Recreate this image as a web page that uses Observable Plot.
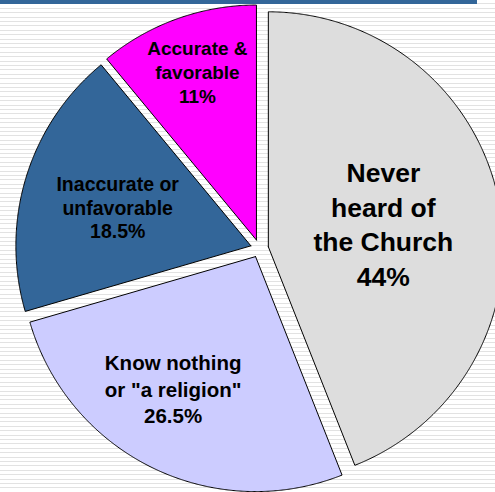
<!DOCTYPE html>
<html>
<head>
<meta charset="utf-8">
<script src="https://cdn.jsdelivr.net/npm/d3@7"></script>
<script src="https://cdn.jsdelivr.net/npm/@observablehq/plot@0.6"></script>
<style>
  html, body { margin: 0; padding: 0; }
  body {
    width: 495px; height: 492px; overflow: hidden; position: relative;
    background: repeating-linear-gradient(to bottom, #ffffff 0px, #ffffff 3.4px, #e2e2e2 3.4px, #e2e2e2 4.4px);
  }
  #bar { position: absolute; left: 0; top: 0; width: 477px; height: 4px; background: #336699; z-index: 2; }
  #chart { position: absolute; left: 0; top: 0; }
</style>
</head>
<body>
<div id="bar"></div>
<div id="chart"></div>
<script>
// ---- data ----
const categories = ["Never heard of the Church", "Know nothing or \"a religion\"", "Inaccurate or unfavorable", "Accurate & favorable"];
const labelLines = [
  ["Never", "heard of", "the Church"],
  ["Know nothing", "or \"a religion\""],
  ["Inaccurate or", "unfavorable"],
  ["Accurate &", "favorable"]
];
const values = [44, 26.5, 18.5, 11];
const valueLabels = ["44%", "26.5%", "18.5%", "11%"];
const colors = ["#dddddd", "#ccccff", "#336699", "#ff00ff"];

// ---- layout (styles, not data) ----
const explode = 9 / 235;              // in radius units
const labelRadius = [0.5, 0.66, 0.59, 0.76];
const labelNudge = [-1, 6, -1, 0.5];  // degrees
const fontSizes = [26.5, 20.5, 19.5, 19];
const lineHeights = [1.31, 1.3, 1.2, 1.26];

const arcs = d3.pie().sort(null).value(d => d)(values);

const pts = [];
const labelData = [];
arcs.forEach((a, i) => {
  const mid = (a.startAngle + a.endAngle) / 2;
  const ox = explode * Math.sin(mid), oy = explode * Math.cos(mid);
  pts.push({key: i, color: colors[i], x: ox, y: oy});
  const n = Math.max(2, Math.ceil((a.endAngle - a.startAngle) / 0.005));
  for (let k = 0; k <= n; k++) {
    const t = a.startAngle + (a.endAngle - a.startAngle) * k / n;
    pts.push({key: i, color: colors[i], x: ox + Math.sin(t), y: oy + Math.cos(t)});
  }
  pts.push({key: i, color: colors[i], x: ox, y: oy});
  const la = mid + labelNudge[i] * Math.PI / 180;
  labelData.push({
    i,
    text: [...labelLines[i], valueLabels[i]].join("\n"),
    x: ox + labelRadius[i] * Math.sin(la),
    y: oy + labelRadius[i] * Math.cos(la)
  });
});

// pixel frame: center at (259,248), radius 235
const R = 235, cx = 259, cy = 248, W = 495, H = 492;
const xDomain = [(0 - cx) / R, (W - cx) / R];
const yDomain = [(cy - H) / R, (cy - 0) / R];

const chart = Plot.plot({
  width: W,
  height: H,
  margin: 0,
  x: {domain: xDomain, axis: null},
  y: {domain: yDomain, axis: null},
  color: {type: "identity"},
  style: {background: "transparent"},
  marks: [
    Plot.line(pts, {x: "x", y: "y", z: "key", fill: "color", stroke: "#000", strokeWidth: 1, curve: "linear"}),
    ...labelData.map(d => Plot.text([d], {
      x: "x", y: "y", text: "text",
      fill: "#000",
      fontFamily: "Liberation Sans, Arial, sans-serif",
      fontWeight: "bold",
      fontSize: fontSizes[d.i],
      lineHeight: lineHeights[d.i],
      lineAnchor: "middle",
      textAnchor: "middle"
    }))
  ]
});
document.getElementById("chart").appendChild(chart);
</script>
</body>
</html>
